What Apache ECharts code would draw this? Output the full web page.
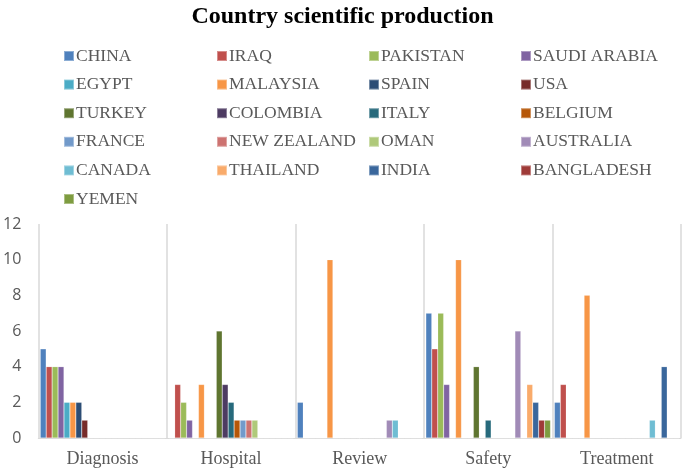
<!DOCTYPE html>
<html><head><meta charset="utf-8">
<script src="https://cdn.jsdelivr.net/npm/echarts@6/dist/echarts.min.js"></script>
<style>html,body{margin:0;padding:0;background:#fff}#c{width:685px;height:470px}</style>
</head><body><div id="c"></div>
<script>
const categories = ['Diagnosis','Hospital','Review','Safety','Treatment'];
const yTicks = [0,2,4,6,8,10,12];
const countries = ['CHINA','IRAQ','PAKISTAN','SAUDI ARABIA','EGYPT','MALAYSIA','SPAIN','USA','TURKEY','COLOMBIA','ITALY','BELGIUM','FRANCE','NEW ZEALAND','OMAN','AUSTRALIA','CANADA','THAILAND','INDIA','BANGLADESH','YEMEN'];
// values per country: [Diagnosis, Hospital, Review, Safety, Treatment]
const CHINA        = [5, 0, 2, 7, 2];
const IRAQ         = [4, 3, 0, 5, 3];
const PAKISTAN     = [4, 2, 0, 7, 0];
const SAUDI_ARABIA = [4, 1, 0, 3, 0];
const EGYPT        = [2, 0, 0, 0, 0];
const MALAYSIA     = [2, 3, 10, 10, 8];
const SPAIN        = [2, 0, 0, 0, 0];
const USA          = [1, 0, 0, 0, 0];
const TURKEY       = [0, 6, 0, 4, 0];
const COLOMBIA     = [0, 3, 0, 0, 0];
const ITALY        = [0, 2, 0, 1, 0];
const BELGIUM      = [0, 1, 0, 0, 0];
const FRANCE       = [0, 1, 0, 0, 0];
const NEW_ZEALAND  = [0, 1, 0, 0, 0];
const OMAN         = [0, 1, 0, 0, 0];
const AUSTRALIA    = [0, 0, 1, 6, 0];
const CANADA       = [0, 0, 1, 0, 1];
const THAILAND     = [0, 0, 0, 3, 0];
const INDIA        = [0, 0, 0, 2, 4];
const BANGLADESH   = [0, 0, 0, 1, 0];
const YEMEN        = [0, 0, 0, 1, 0];
const values = [CHINA,IRAQ,PAKISTAN,SAUDI_ARABIA,EGYPT,MALAYSIA,SPAIN,USA,TURKEY,COLOMBIA,ITALY,BELGIUM,FRANCE,NEW_ZEALAND,OMAN,AUSTRALIA,CANADA,THAILAND,INDIA,BANGLADESH,YEMEN];
const colors = ['#4F81BD','#C0504D','#9BBB59','#8064A2','#4BACC6','#F79646','#2C4D75','#772C2A','#5F7530','#4D3B62','#276A7C','#B65708','#729ACA','#CD7371','#AFC97A','#A18BB7','#6FBDD3','#F9AB6B','#3A679C','#9F3B38','#7E9C40'];

const chart = echarts.init(document.getElementById('c'), null, {renderer:'canvas'});
const colX = [58, 211, 363, 515];
const legends = colX.map((x, ci) => ({
  orient: 'vertical', left: x, top: 42, itemGap: 10.6,
  itemWidth: 10, itemHeight: 10, icon: 'rect',
  textStyle: {fontFamily: 'Liberation Serif', fontSize: 17.5, color: '#595959', padding:[0,0,0,-3]},
  data: countries.filter((_, i) => i % 4 === ci)
}));
const series = countries.map((name, i) => ({
  name, type: 'bar', data: values[i], barGap: '0%', barCategoryGap: '3%',
  itemStyle: {color: colors[i], borderColor: 'rgba(255,255,255,0.35)', borderWidth: 0.5},
  emphasis: {disabled: true}
}));
chart.setOption({
  animation: false,
  color: colors,
  title: {text: 'Country scientific production', left: 'center', top: 0,
    textStyle: {fontFamily: 'Liberation Serif', fontWeight: 'bold', fontSize: 24, color: '#000'}},
  legend: legends,
  grid: {left: 35, right: 4, top: 224, bottom: 32, containLabel: false},
  xAxis: {type: 'category', data: categories,
    axisLine: {show: true, lineStyle: {color: '#d9d9d9'}},
    axisTick: {show: false},
    splitLine: {show: true, lineStyle: {color: '#d9d9d9', width: 1.5}},
    axisLabel: {fontFamily: 'Liberation Serif', fontSize: 18, color: '#595959', margin: 12}},
  yAxis: {type: 'value', min: yTicks[0], max: yTicks[yTicks.length-1], interval: 2,
    axisLine: {show: false}, axisTick: {show: false}, splitLine: {show: false},
    axisLabel: {fontFamily: 'Open Sans', fontSize: 16, color: '#595959', margin: 17}},
  series
});
</script></body></html>
